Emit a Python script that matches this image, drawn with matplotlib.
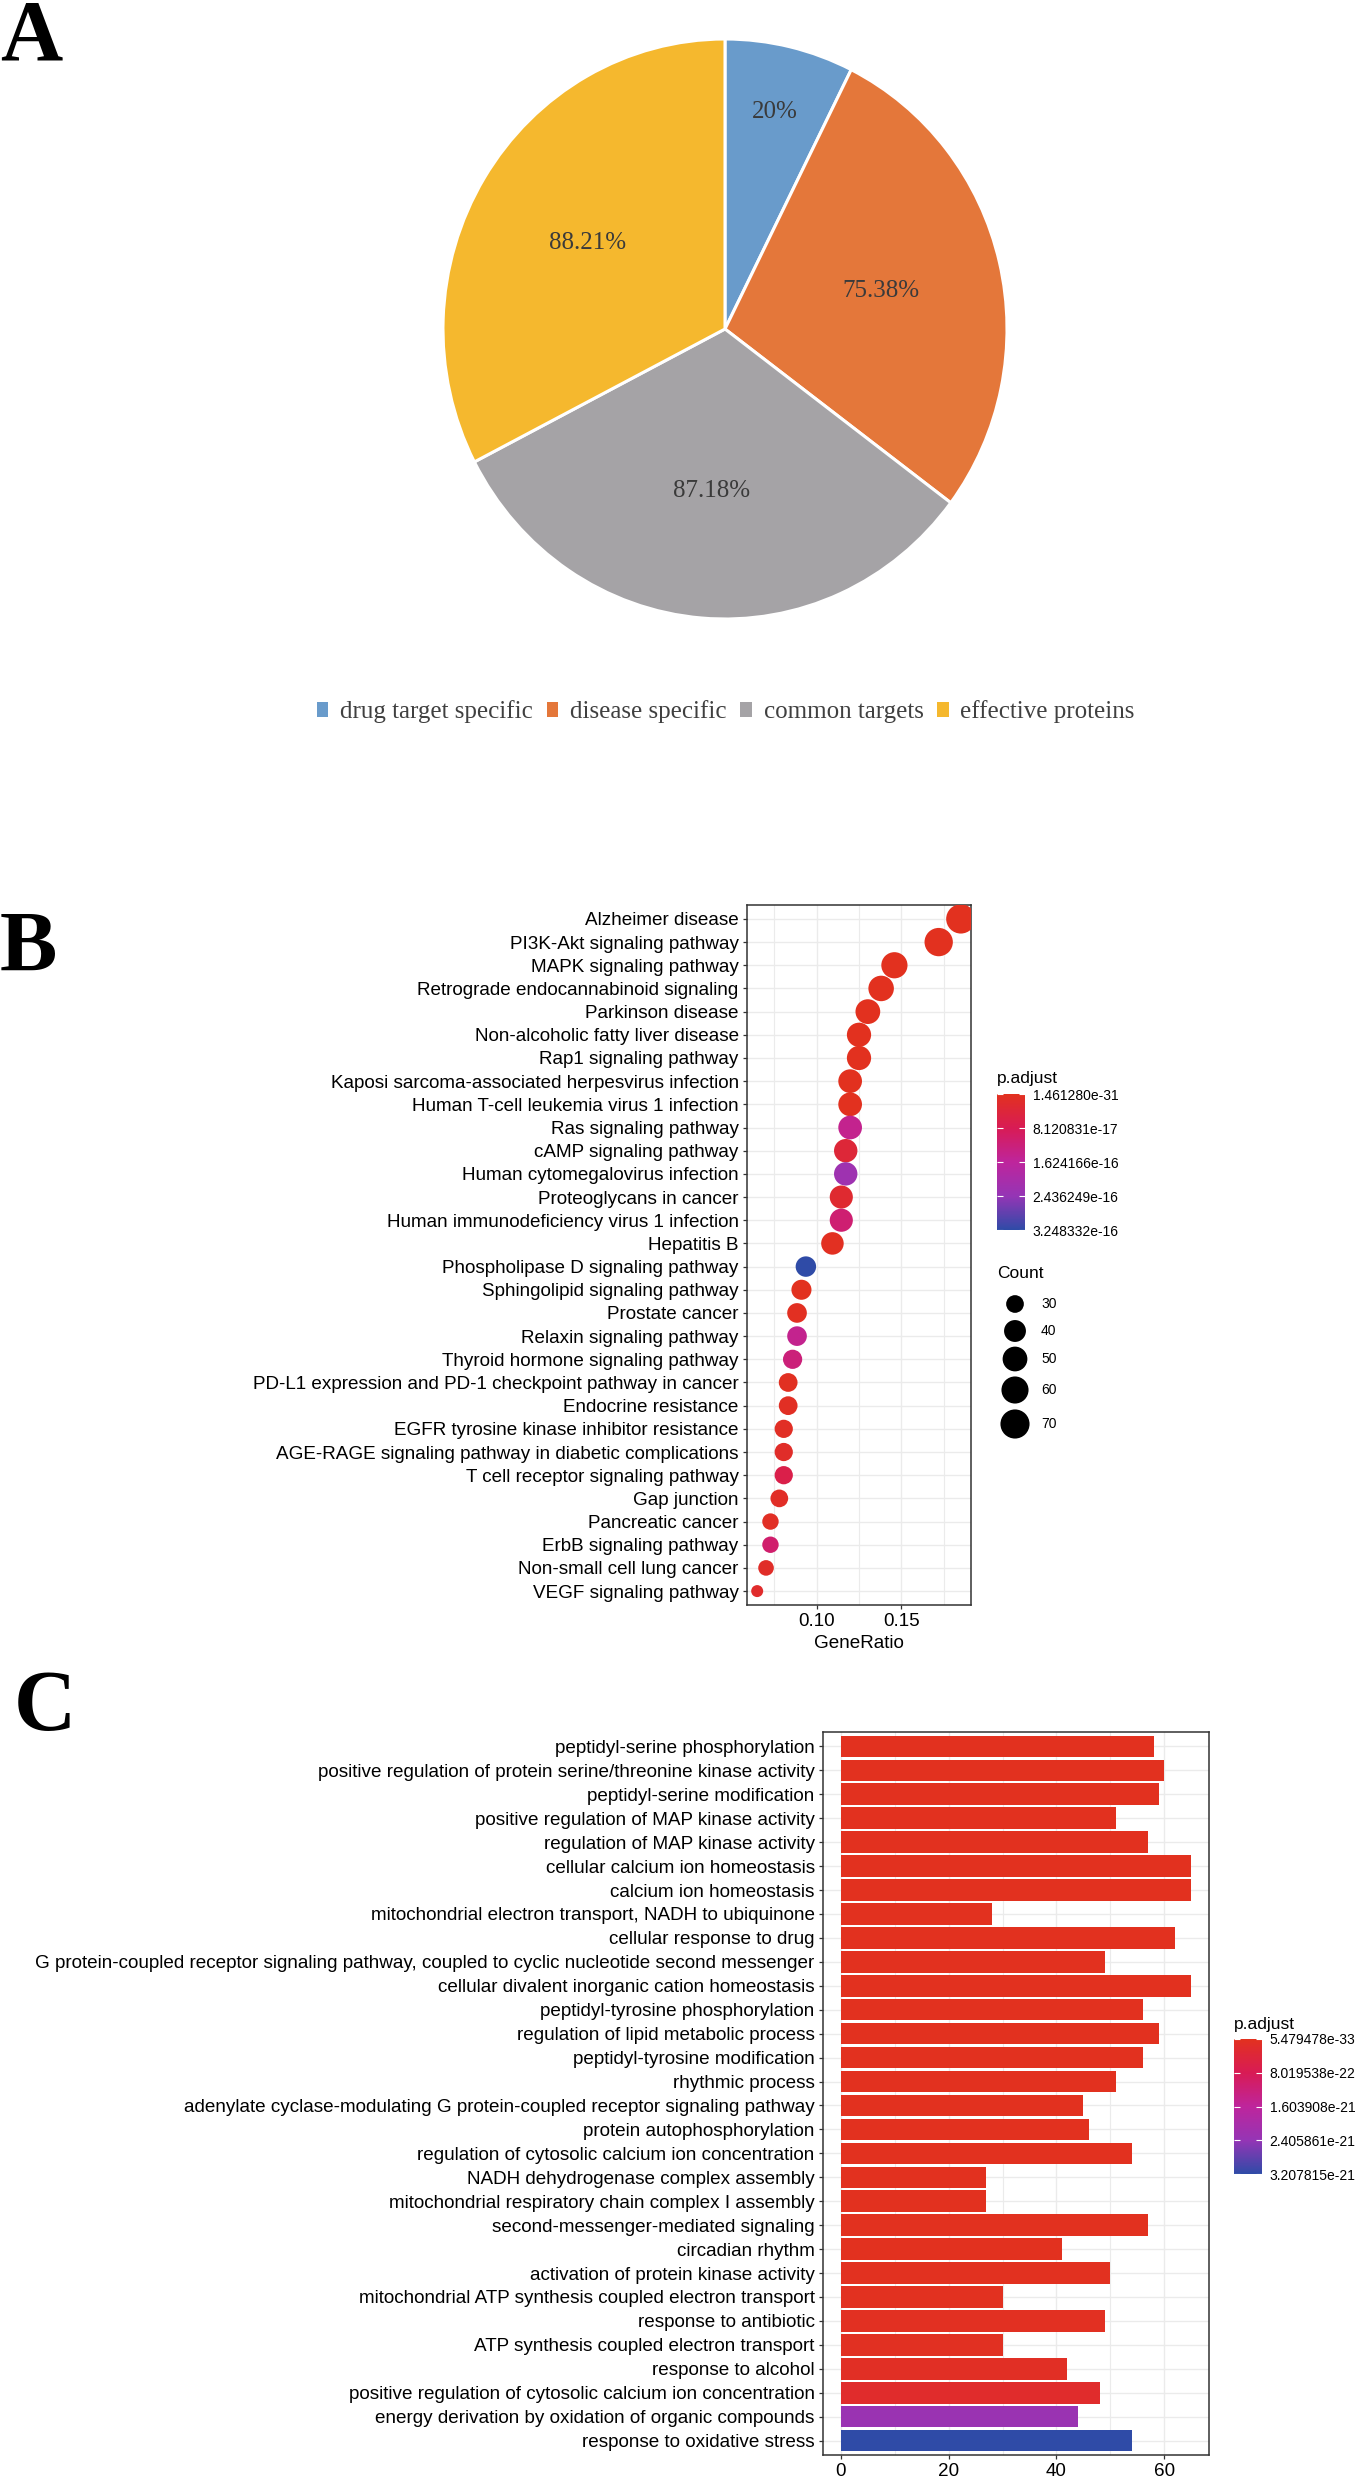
import numpy as np
import matplotlib
matplotlib.use("Agg")
import matplotlib.pyplot as plt
from matplotlib.colors import LinearSegmentedColormap, Normalize
from matplotlib.cm import ScalarMappable
from matplotlib.patches import Patch

plt.rcParams['font.family'] = ['Liberation Sans', 'DejaVu Sans']

# ---------------- panel A: pie ----------------
pie_labels = ["drug target specific", "disease specific", "common targets", "effective proteins"]
pie_values = [20.0, 75.38, 87.18, 88.21]
pie_colors = ["#699BCB", "#E4773A", "#A5A3A6", "#F5B82E"]

# ---------------- panel B: KEGG dotplot ----------------
kegg_terms = [
    "Alzheimer disease", "PI3K-Akt signaling pathway", "MAPK signaling pathway",
    "Retrograde endocannabinoid signaling", "Parkinson disease", "Non-alcoholic fatty liver disease",
    "Rap1 signaling pathway", "Kaposi sarcoma-associated herpesvirus infection",
    "Human T-cell leukemia virus 1 infection", "Ras signaling pathway", "cAMP signaling pathway",
    "Human cytomegalovirus infection", "Proteoglycans in cancer",
    "Human immunodeficiency virus 1 infection", "Hepatitis B", "Phospholipase D signaling pathway",
    "Sphingolipid signaling pathway", "Prostate cancer", "Relaxin signaling pathway",
    "Thyroid hormone signaling pathway", "PD-L1 expression and PD-1 checkpoint pathway in cancer",
    "Endocrine resistance", "EGFR tyrosine kinase inhibitor resistance",
    "AGE-RAGE signaling pathway in diabetic complications", "T cell receptor signaling pathway",
    "Gap junction", "Pancreatic cancer", "ErbB signaling pathway", "Non-small cell lung cancer",
    "VEGF signaling pathway",
]
kegg_gene_ratio = [
    "71/384", "66/384", "56/384", "53/384", "50/384", "48/384", "48/384", "46/384", "46/384",
    "46/384", "45/384", "45/384", "44/384", "44/384", "42/384", "36/384", "35/384", "34/384",
    "34/384", "33/384", "32/384", "32/384", "31/384", "31/384", "31/384", "30/384", "28/384",
    "28/384", "27/384", "25/384",
]
kegg_padj = [
    1.461280e-31, 2.0e-28, 5.0e-25, 1.0e-22, 3.0e-22, 2.0e-21, 5.0e-20, 1.0e-19, 8.0e-19,
    1.46e-16, 3.9e-17, 2.27e-16, 2.6e-17, 1.14e-16, 5.0e-18, 3.2483324e-16,
    1.0e-18, 4.0e-18, 1.46e-16, 1.23e-16, 6.0e-18, 8.0e-18, 1.0e-17, 1.6e-17, 6.5e-17,
    1.2e-17, 9.0e-18, 1.07e-16, 1.4e-17, 2.0e-17,
]
count_breaks = [30, 40, 50, 60, 70]

# ---------------- panel C: GO barplot ----------------
go_terms = [
    "peptidyl-serine phosphorylation",
    "positive regulation of protein serine/threonine kinase activity",
    "peptidyl-serine modification",
    "positive regulation of MAP kinase activity",
    "regulation of MAP kinase activity",
    "cellular calcium ion homeostasis",
    "calcium ion homeostasis",
    "mitochondrial electron transport, NADH to ubiquinone",
    "cellular response to drug",
    "G protein-coupled receptor signaling pathway, coupled to cyclic nucleotide second messenger",
    "cellular divalent inorganic cation homeostasis",
    "peptidyl-tyrosine phosphorylation",
    "regulation of lipid metabolic process",
    "peptidyl-tyrosine modification",
    "rhythmic process",
    "adenylate cyclase-modulating G protein-coupled receptor signaling pathway",
    "protein autophosphorylation",
    "regulation of cytosolic calcium ion concentration",
    "NADH dehydrogenase complex assembly",
    "mitochondrial respiratory chain complex I assembly",
    "second-messenger-mediated signaling",
    "circadian rhythm",
    "activation of protein kinase activity",
    "mitochondrial ATP synthesis coupled electron transport",
    "response to antibiotic",
    "ATP synthesis coupled electron transport",
    "response to alcohol",
    "positive regulation of cytosolic calcium ion concentration",
    "energy derivation by oxidation of organic compounds",
    "response to oxidative stress",
]
go_count = [58, 60, 59, 51, 57, 65, 65, 28, 62, 49, 65, 56, 59, 56, 51,
            45, 46, 54, 27, 27, 57, 41, 50, 30, 49, 30, 42, 48, 44, 54]
go_padj = [
    5.479478e-33, 2.0e-31, 6.0e-31, 2.0e-30, 9.0e-30, 3.0e-29, 8.0e-29, 2.0e-28, 6.0e-28,
    2.0e-27, 5.0e-27, 1.0e-26, 3.0e-26, 6.0e-26, 1.0e-25, 3.0e-25, 6.0e-25, 1.0e-24,
    2.0e-24, 2.0e-24, 4.0e-24, 8.0e-24, 1.5e-23, 2.5e-23, 4.0e-23, 6.0e-23, 9.0e-23,
    2.0e-22, 2.31e-21, 3.2078152e-21,
]

# red -> blue gradient as in the figure
padj_cmap = LinearSegmentedColormap.from_list(
    "padj", [(0.0, "#E2311F"), (0.25, "#D81B55"), (0.5, "#BE259C"),
             (0.75, "#9535B5"), (1.0, "#2F4BA7")])

W, H = 1362, 2479
fig = plt.figure(figsize=(W / 100, H / 100), dpi=100)


def px_axes(left, top, right, bottom):
    return fig.add_axes([left / W, 1 - bottom / H, (right - left) / W, (bottom - top) / H])


def px_text(x, y, s, **kw):
    return fig.text(x / W, 1 - y / H, s, **kw)


SERIF = ['Liberation Serif', 'DejaVu Serif']
AX_FS = 13.6
EDGE = "#333333"
GRID = "#EBEBEB"

# panel letters
px_text(0, 59, "A", fontsize=62, fontweight='bold', family=SERIF, va='baseline')
px_text(0, 971, "B", fontsize=62, fontweight='bold', family=SERIF, va='baseline')
px_text(14, 1730, "C", fontsize=62, fontweight='bold', family=SERIF, va='baseline')

# ================= A =================
ax_a = px_axes(425, 29, 1025, 629)
wedges, _ = ax_a.pie(pie_values, colors=pie_colors, startangle=90, counterclock=False,
                     wedgeprops=dict(edgecolor='white', linewidth=2.2))
ax_a.set_aspect('auto')
ax_a.set_xlim(-300 / 282, 300 / 282)
ax_a.set_ylim(-300 / 290, 300 / 290)
label_dist = [0.77, 0.57, 0.56, 0.57]
for w, v, d in zip(wedges, pie_values, label_dist):
    ang = np.deg2rad((w.theta1 + w.theta2) / 2)
    ax_a.text(d * np.cos(ang), d * np.sin(ang), f"{v:g}%", ha='center', va='center',
              fontsize=18, family=SERIF, color='#3a3a3a')

fig.legend(handles=[Patch(facecolor=c, edgecolor='none') for c in pie_colors],
           labels=pie_labels, loc='center', bbox_to_anchor=(726 / W, 1 - 712 / H),
           ncol=4, frameon=False, prop=dict(family=SERIF, size=18),
           handlelength=0.45, handleheight=0.55, handletextpad=0.48,
           columnspacing=0.55, labelcolor='#404040')

# ================= B =================
ratio = np.array([int(a) / int(b) for a, b in (g.split("/") for g in kegg_gene_ratio)])
counts = np.array([int(g.split("/")[0]) for g in kegg_gene_ratio])
cmin, cmax = counts.min(), counts.max()


def dot_size(c):
    d_px = 12 + 17.3 * np.sqrt((np.asarray(c) - cmin) / (cmax - cmin))
    return (d_px * 0.72) ** 2


norm_b = Normalize(min(kegg_padj), max(kegg_padj))
ax_b = px_axes(747, 905, 971, 1605)
nb = len(kegg_terms)
yb = np.arange(nb)[::-1]
ax_b.scatter(ratio, yb, s=dot_size(counts), c=kegg_padj, cmap=padj_cmap, norm=norm_b,
             edgecolors='none', zorder=3)
pad = 0.05 * (ratio.max() - ratio.min())
ax_b.set_xlim(ratio.min() - pad, ratio.max() + pad)
ax_b.set_ylim(-0.6, nb - 0.4)
ax_b.set_yticks(yb)
ax_b.set_yticklabels(kegg_terms)
ax_b.set_xticks([0.10, 0.15])
ax_b.set_xticklabels(["0.10", "0.15"])
ax_b.set_xticks([0.075, 0.125, 0.175], minor=True)
ax_b.set_xlabel("GeneRatio", fontsize=AX_FS, labelpad=3)

# ================= C =================
norm_c = Normalize(min(go_padj), max(go_padj))
ax_c = px_axes(823, 1732, 1209, 2455)
nc = len(go_terms)
yc = np.arange(nc)[::-1]
ax_c.barh(yc, go_count, height=0.9, color=padj_cmap(norm_c(go_padj)), zorder=3)
ax_c.set_xlim(-0.05 * max(go_count), 1.05 * max(go_count))
ax_c.set_ylim(-0.6, nc - 0.4)
ax_c.set_yticks(yc)
ax_c.set_yticklabels(go_terms)
ax_c.set_xticks([0, 20, 40, 60])
ax_c.set_xticks([10, 30, 50], minor=True)

for ax in (ax_b, ax_c):
    ax.set_axisbelow(True)
    ax.grid(True, which='major', color=GRID, lw=1.0)
    ax.grid(True, which='minor', axis='x', color=GRID, lw=0.8)
    for sp in ax.spines.values():
        sp.set_color(EDGE)
        sp.set_linewidth(1.1)
    ax.tick_params(which='major', length=3, width=0.9, color=EDGE, pad=3,
                   labelsize=AX_FS, labelcolor='black')
    ax.tick_params(which='minor', length=0)

# ================= legends =================
def padj_colorbar(left, top, right, bottom, norm):
    cax = px_axes(left, top, right, bottom)
    cb = fig.colorbar(ScalarMappable(norm=norm, cmap=padj_cmap), cax=cax)
    ticks = np.linspace(norm.vmin, norm.vmax, 5)
    cb.set_ticks(ticks)
    cb.set_ticklabels([f"{t:.6e}" for t in ticks])
    cax.invert_yaxis()
    cb.outline.set_visible(False)
    cax.tick_params(which='major', direction='in', left=True, right=True, color='white',
                    length=4, width=0.8, labelsize=10, pad=5.5)
    cax.tick_params(which='minor', length=0)
    px_text(left, top - 15, "p.adjust", fontsize=12.5, va='center', ha='left')
    return cb


padj_colorbar(997, 1094, 1025, 1230, norm_b)
padj_colorbar(1234, 2039, 1262, 2174, norm_c)

# Count size legend for panel B
px_text(997, 1273, "Count", fontsize=12.5, va='center', ha='left')
ax_cnt = px_axes(990, 1285, 1100, 1445)
ax_cnt.set_xlim(990, 1100)
ax_cnt.set_ylim(1445, 1285)
ax_cnt.axis('off')
key_y = [1304, 1331, 1359, 1390, 1424]
ax_cnt.scatter([1015] * len(count_breaks), key_y, s=dot_size(count_breaks), color='black',
               edgecolors='none', clip_on=False)
for yk, b in zip(key_y, count_breaks):
    ax_cnt.text(1041, yk, str(b), fontsize=10, va='center', ha='left')

fig.savefig("out.png", dpi=100)
